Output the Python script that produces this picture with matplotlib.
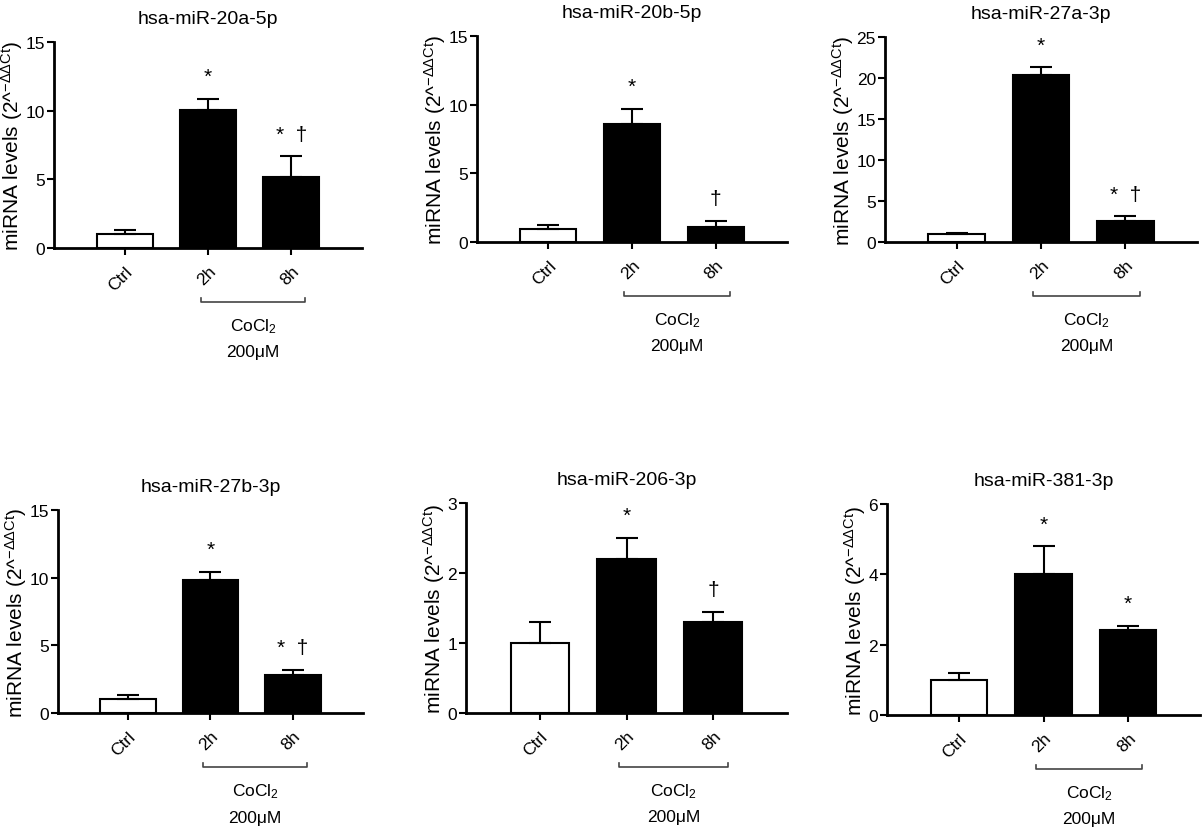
import matplotlib
matplotlib.use("Agg")
import matplotlib.pyplot as plt
import matplotlib.transforms as mtransforms
import numpy as np

plt.rcParams['font.family'] = ['Liberation Sans', 'DejaVu Sans']
plt.rcParams['mathtext.fontset'] = 'custom'
plt.rcParams['mathtext.rm'] = 'Liberation Sans'
plt.rcParams['mathtext.it'] = 'Liberation Sans'

# ---- data ----
titles = ["hsa-miR-20a-5p", "hsa-miR-20b-5p", "hsa-miR-27a-3p",
          "hsa-miR-27b-3p", "hsa-miR-206-3p", "hsa-miR-381-3p"]
categories = ["Ctrl", "2h", "8h"]

mir20a_mean = [1.0, 10.05, 5.2]
mir20a_sem = [0.32, 0.8, 1.47]
mir20b_mean = [0.97, 8.6, 1.08]
mir20b_sem = [0.3, 1.1, 0.44]
mir27a_mean = [0.95, 20.4, 2.6]
mir27a_sem = [0.17, 0.9, 0.52]
mir27b_mean = [1.01, 9.83, 2.83]
mir27b_sem = [0.3, 0.6, 0.38]
mir206_mean = [1.0, 2.2, 1.3]
mir206_sem = [0.3, 0.3, 0.14]
mir381_mean = [1.0, 4.0, 2.43]
mir381_sem = [0.2, 0.8, 0.1]

mir20a_marks = ["", "*", "*  \u2020"]
mir20b_marks = ["", "*", "\u2020"]
mir27a_marks = ["", "*", "*  \u2020"]
mir27b_marks = ["", "*", "*  \u2020"]
mir206_marks = ["", "*", "\u2020"]
mir381_marks = ["", "*", "*"]

ymaxes = [15, 15, 25, 15, 3, 6]
ytick_steps = [5, 5, 5, 5, 1, 2]

means = [mir20a_mean, mir20b_mean, mir27a_mean, mir27b_mean, mir206_mean, mir381_mean]
sems = [mir20a_sem, mir20b_sem, mir27a_sem, mir27b_sem, mir206_sem, mir381_sem]
marks = [mir20a_marks, mir20b_marks, mir27a_marks, mir27b_marks, mir206_marks, mir381_marks]

# ---- layout (pixels: left, right, top, bottom of axes) ----
W, H = 1204, 829
geom = [(54, 362, 43, 249), (477, 787, 37, 243), (885, 1197, 38, 243),
        (58, 363, 511, 714), (466, 787, 504, 714), (887, 1200, 505, 716)]

fig = plt.figure(figsize=(W / 100, H / 100), dpi=100)

x = np.arange(len(categories))
colors = ["white", "black", "black"]

for i in range(6):
    l, r, t, b = geom[i]
    ax = fig.add_axes([l / W, 1 - b / H, (r - l) / W, (b - t) / H])
    ah = b - t
    m = np.array(means[i])
    s = np.array(sems[i])
    ax.bar(x, m, width=0.67, color=colors, edgecolor="black", linewidth=1.5, zorder=2)
    ax.errorbar(x, m, yerr=[np.zeros_like(s), s], fmt="none", ecolor="black",
                elinewidth=1.5, capsize=8, capthick=1.5, zorder=3)
    for xi, yi, txt in zip(x, m + s, marks[i]):
        if txt:
            ax.annotate(txt, (xi, yi), xytext=(0, 16), textcoords="offset points",
                        ha="center", va="center", fontsize=15)
    ax.set_xlim(-0.85, 2.85)
    ax.set_ylim(0, ymaxes[i])
    ax.set_yticks(np.arange(0, ymaxes[i] + 0.001, ytick_steps[i]))
    ax.set_xticks(x)
    ax.set_xticklabels(categories, rotation=45, ha="right", rotation_mode="anchor",
                       fontsize=12.5)
    ax.tick_params(axis="y", labelsize=12.5, width=1.5, length=5, direction="out", pad=1.5)
    ax.tick_params(axis="x", width=1.5, length=5, direction="out", pad=6)
    for sp in ["top", "right"]:
        ax.spines[sp].set_visible(False)
    for sp in ["left", "bottom"]:
        ax.spines[sp].set_linewidth(2)
    ax.set_ylabel(r"miRNA levels (2^$\mathregular{^{-\Delta\Delta Ct}}$)", fontsize=15,
                  labelpad=0)
    ax.set_title(titles[i], fontsize=14, pad=14)

    # bracket under 2h-8h
    trans = mtransforms.blended_transform_factory(ax.transData, ax.transAxes)
    x0, x1 = 1 - 0.09, 2 + 0.17
    yb = -54 / ah
    ytick = -50 / ah
    ax.plot([x0, x0, x1, x1], [ytick, yb, yb, ytick], transform=trans,
            color="#444444", linewidth=1.2, clip_on=False)
    xc = (x0 + x1) / 2
    ax.text(xc, -78 / ah, "CoCl$_2$", transform=trans, ha="center", va="center",
            fontsize=12.5)
    ax.text(xc, -104 / ah, "200\u03bcM", transform=trans, ha="center", va="center",
            fontsize=12.5)

fig.savefig("out.png", dpi=100)
